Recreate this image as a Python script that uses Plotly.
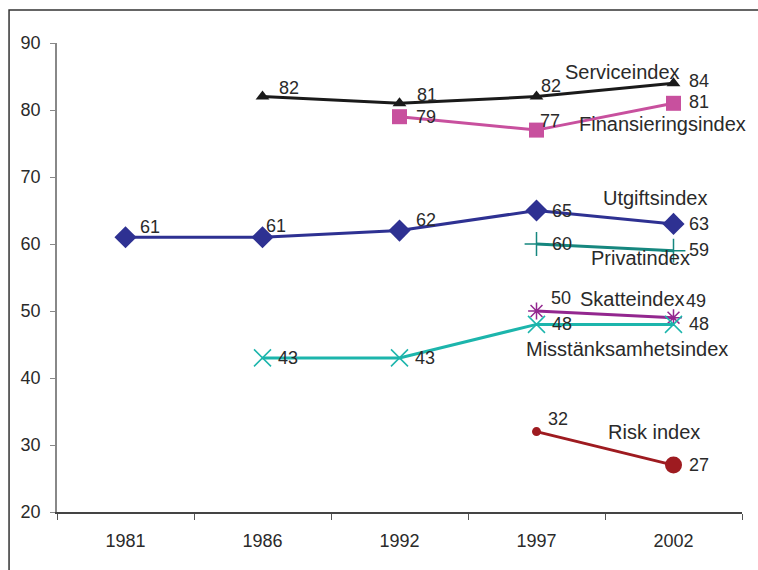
import plotly.graph_objects as go

years = ["1981", "1986", "1992", "1997", "2002"]

service = [None, 82, 81, 82, 84]
finans = [None, None, 79, 77, 81]
utgifts = [61, 61, 62, 65, 63]
privat = [None, None, None, 60, 59]
skatte = [None, None, None, 50, 49]
misstank = [None, 43, 43, 48, 48]
risk = [None, None, None, 32, 27]

font = "Liberation Sans, Arial, sans-serif"
txt = "#2a2a2a"

fig = go.Figure()

def add_series(vals, name, color, symbol, size, lw=3, mline=None):
    marker = dict(symbol=symbol, size=size, color=color, opacity=1)
    if mline:
        marker["line"] = dict(color=color, width=mline)
    fig.add_trace(go.Scatter(x=years, y=vals, name=name, mode="lines+markers",
                             line=dict(color=color, width=lw), marker=marker,
                             connectgaps=False, cliponaxis=False))

add_series(service, "Serviceindex", "#1a1a1a", "triangle-up", 12)
add_series(finans, "Finansieringsindex", "#C8509E", "square", 15)
add_series(utgifts, "Utgiftsindex", "#2E3192", "diamond", 17)
add_series(privat, "Privatindex", "#16877F", "cross-thin", 17, 3, 1.5)
add_series(skatte, "Skatteindex", "#93278F", "asterisk", 14, 3, 1.5)
add_series(misstank, "Misstänksamhetsindex", "#1CB5AC", "x-thin", 17, 3, 1.5)
fig.add_trace(go.Scatter(x=years, y=risk, name="Risk index", mode="lines+markers",
                         line=dict(color="#9E1B20", width=3),
                         marker=dict(symbol="circle", size=[9, 9, 9, 9, 17],
                                     color="#9E1B20", opacity=1,
                                     line=dict(width=0)),
                         cliponaxis=False))

# value labels: (series, index, xshift, yshift)
label_offsets = [
    (service, 1, 14, 9), (service, 2, 15, 8), (service, 3, 2, 11), (service, 4, 13, 2),
    (finans, 2, 14, 0), (finans, 3, 1, 9), (finans, 4, 13, 1),
    (utgifts, 0, 12, 10), (utgifts, 1, 1, 11), (utgifts, 2, 14, 11), (utgifts, 3, 13, 0), (utgifts, 4, 13, 0),
    (privat, 3, 13, 0), (privat, 4, 13, 1),
    (skatte, 3, 12, 13), (skatte, 4, 10, 17),
    (misstank, 1, 13, 0), (misstank, 2, 13, 0), (misstank, 3, 13, 0), (misstank, 4, 13, 0),
    (risk, 3, 9, 13), (risk, 4, 13, 0),
]
for vals, i, dx, dy in label_offsets:
    fig.add_annotation(x=i, y=vals[i], text=str(vals[i]), showarrow=False,
                       xanchor="left", yanchor="middle", xshift=dx, yshift=dy,
                       font=dict(family=font, size=18, color=txt))

# series names
names = [
    ("Serviceindex", 3.63, 85.7),
    ("Finansieringsindex", 3.92, 77.9),
    ("Utgiftsindex", 3.87, 66.9),
    ("Privatindex", 3.76, 57.9),
    ("Skatteindex", 3.70, 51.8),
    ("Misstänksamhetsindex", 3.66, 44.3),
    ("Risk index", 3.86, 31.9),
]
for name, xi, yv in names:
    fig.add_annotation(x=xi, y=yv, text=name, showarrow=False, xanchor="center",
                       yanchor="middle", font=dict(family=font, size=20, color=txt))

# outer frame (left and top edges only are visible)
fig.add_shape(type="path", xref="paper", yref="paper",
              path="M -0.07,-0.3 L -0.07,1.0704 L 1.05,1.0704",
              line=dict(color="#333333", width=1.5))

fig.update_layout(
    width=758, height=570,
    margin=dict(l=57, r=16, t=43, b=58),
    plot_bgcolor="white", paper_bgcolor="white",
    showlegend=False,
    font=dict(family=font, size=18, color=txt),
    xaxis=dict(type="category", range=[-0.5, 4.5], tickson="boundaries",
               ticks="outside", ticklen=6, tickcolor="#555555",
               showline=True, linecolor="#444444", linewidth=1.5,
               showgrid=False, zeroline=False, ticklabelstandoff=12,
               tickfont=dict(size=18, color=txt)),
    yaxis=dict(range=[20, 90], dtick=10, ticks="outside", ticklen=5,
               tickcolor="#888888", showline=True, linecolor="#888888",
               linewidth=1.5, showgrid=False, zeroline=False, ticklabelstandoff=6,
               tickfont=dict(size=18, color=txt)),
)

fig.write_html("out.html", config={"displayModeBar": False},
               post_script="document.body.style.margin='0';document.body.style.overflow='hidden';")
